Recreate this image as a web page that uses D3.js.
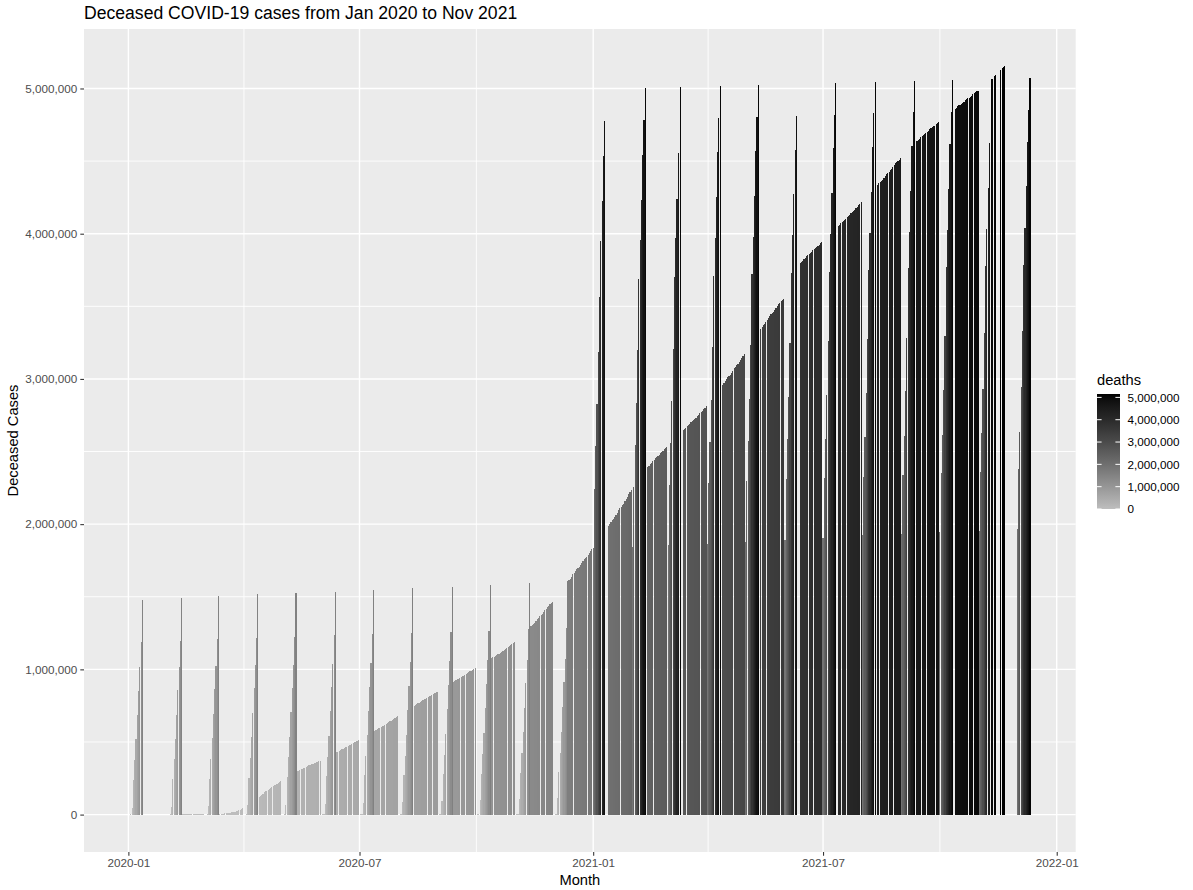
<!DOCTYPE html>
<html><head><meta charset="utf-8">
<script src="https://cdn.jsdelivr.net/npm/d3@7"></script>
<style>
body{margin:0;background:#fff}
text{font-family:"Liberation Sans",Arial,Helvetica,sans-serif}
</style>
</head><body>
<svg id="chart" width="1193" height="890"></svg>
<script>
// Cumulative global deceased cases, thousands, per reporting date (day 1..n of each month); null = no row
const deaths2020Jan = [null,null,null,null,null,null,null,null,null,null,null,null,null,null,null,null,null,null,null,null,null,0.017,0.018,0.026,0.042,0.056,0.082,0.131,0.133,0.171,0.213];
const deaths2020Feb = [0.259,0.362,0.426,0.492,0.564,0.634,0.719,0.806,0.906,1.013,1.113,1.118,1.371,1.523,1.666,1.770,1.868,2.007,2.122,2.247,2.251,2.458,2.469,2.629,2.708,2.770,2.814,2.872,2.941];
const deaths2020Mar = [2.996,3.085,3.160,3.254,3.348,3.460,3.558,3.802,3.988,4.262,4.615,4.720,5.404,5.819,6.440,7.126,7.905,8.733,9.867,11.299,12.973,14.623,16.497,18.615,21.181,23.970,27.198,30.652,33.925,37.582,42.107];
const deaths2020Apr = [46.809,52.983,58.787,64.606,69.374,74.565,81.865,88.338,95.455,102.525,108.502,114.091,119.482,125.984,134.176,143.800,153.822,159.510,165.044,169.986,176.583,183.067,190.858,197.159,202.846,206.544,211.167,217.153,227.638,233.388];
const deaths2020May = [238.650,243.808,247.470,251.537,257.239,263.855,269.567,274.898,279.311,282.709,286.330,291.942,297.197,302.418,307.666,311.781,315.185,318.481,323.285,328.115,332.924,338.160,342.097,345.059,346.232,350.453,355.629,360.308,365.123,369.126,372.035];
const deaths2020Jun = [375.543,380.249,385.947,391.136,395.862,399.931,403.269,406.818,411.580,416.459,421.461,426.149,430.425,433.802,437.531,444.180,449.642,454.802,459.637,463.868,467.466,471.654,477.065,482.449,489.361,494.285,498.628,502.146,505.669,510.734];
const deaths2020Jul = [518.0,523.0,528.2,532.3,535.8,539.6,545.6,551.3,556.8,562.3,567.4,571.4,575.4,581.4,587.3,593.2,599.0,604.3,608.6,612.6,618.5,625.3,631.8,638.0,643.3,647.3,651.3,657.8,664.5,670.8,677.0];
const deaths2020Aug = [682.6,686.8,690.9,697.6,704.2,710.4,716.7,722.2,726.8,731.2,737.4,743.8,749.7,755.6,761.1,765.6,769.7,776.2,782.7,788.5,794.0,799.4,803.7,807.7,814.0,820.0,825.9,831.4,836.4,840.7,845.0];
const deaths2020Sep = [851.3,857.6,863.4,869.0,873.8,877.8,881.8,887.0,893.4,899.2,904.8,910.1,914.4,918.8,925.1,931.5,937.1,942.7,948.0,952.1,956.5,962.8,969.2,974.9,980.6,985.8,990.0,994.8,1001.0,1007.2];
const deaths2020Oct = [1013.2,1018.9,1024.1,1028.0,1032.7,1038.7,1044.7,1050.7,1056.4,1061.6,1065.5,1069.8,1076.1,1082.4,1088.5,1094.5,1100.1,1104.3,1108.8,1115.4,1122.3,1128.7,1135.1,1141.5,1146.1,1151.2,1158.7,1165.9,1172.8,1179.6,1186.4];
const deaths2020Nov = [1191.4,1196.6,1205.8,1215.3,1224.0,1233.6,1242.4,1249.5,1256.9,1267.3,1278.0,1287.8,1297.8,1306.3,1313.6,1321.6,1333.1,1344.4,1355.4,1366.9,1376.3,1383.9,1393.2,1405.8,1418.5,1429.3,1439.8,1448.4,1456.0,1465.1];
const deaths2020Dec = [1477.8,1490.7,1503.7,1516.0,1527.3,1534.9,1544.2,1556.9,1570.4,1582.6,1595.3,1606.3,1614.3,1625.2,1639.4,1653.4,1667.0,1679.8,1690.4,1698.1,1708.2,1721.5,1735.8,1748.7,1758.0,1765.4,1772.8,1784.2,1799.6,1815.1,1831.9];
const deaths2021Jan = [1838,1846,1853,1863,1878,1893,1908,1922,1935,1944,1954,1970,1986,2001,2015,2027,2036,2046,2062,2078,2094,2108,2120,2129,2141,2157,2174,2190,2210,2222,2232];
const deaths2021Feb = [2241,2256,2270,2284,2297,2308,2316,2325,2338,2350,2362,2380,2393,2403,2411,2421,2432,2444,2454,2463,2469,2476,2487,2497,2506,2515,2523,2530];
const deaths2021Mar = [2538,2547,2557,2566,2575,2583,2589,2597,2607,2616,2625,2635,2648,2655,2663,2673,2683,2692,2701,2709,2715,2723,2733,2744,2754,2765,2775,2782,2790,2800,2812];
const deaths2021Apr = [2825,2837,2848,2855,2862,2875,2889,2903,2916,2927,2934,2944,2958,2972,2986,2999,3011,3019,3030,3044,3058,3072,3085,3097,3106,3117,3131,3146,3160,3174];
const deaths2021May = [3188,3198,3208,3221,3235,3249,3263,3275,3284,3298,3313,3329,3345,3360,3372,3381,3392,3406,3420,3433,3445,3455,3463,3473,3486,3500,3513,3525,3535,3542,3550];
const deaths2021Jun = [3565,3690,3700,3712,3722,3730,3738,3748,3762,3770,3778,3787,3797,3804,3814,3824,3835,3845,3854,3861,3868,3877,3886,3895,3904,3911,3917,3924,3933,3942];
const deaths2021Jul = [3951,3959,3967,3973,3979,3988,3997,4006,4015,4023,4030,4039,4053,4062,4071,4080,4088,4095,4103,4112,4122,4132,4141,4150,4157,4165,4176,4187,4197,4207,4215];
const deaths2021Aug = [4222,4230,4240,4251,4261,4272,4281,4288,4296,4306,4317,4327,4338,4347,4354,4362,4373,4384,4395,4410,4419,4427,4436,4448,4460,4472,4484,4494,4502,4510,4522];
const deaths2021Sep = [4533,4544,4555,4565,4572,4579,4588,4598,4607,4616,4624,4630,4636,4645,4654,4663,4672,4680,4686,4692,4701,4710,4719,4727,4734,4739,4745,4753,4761,4770];
const deaths2021Oct = [4778,4785,null,4796,4804,4812,4820,4828,4835,4840,null,4852,4860,4868,4876,4883,4888,4894,4902,4910,4918,4926,4932,4937,4943,4951,4959,4967,4975,4981,4986];
const deaths2021Nov = [null,5000,5008,5016,5024,null,5037,5043,5051,5060,5067,5073,5085,5093,null,null,null,5130,5138,5145,5152];

const yBreaks = [0,1000000,2000000,3000000,4000000,5000000];
const xBreakLabels = ["2020-01","2020-07","2021-01","2021-07","2022-01"];

const months = [
  [2020,1,deaths2020Jan],[2020,2,deaths2020Feb],[2020,3,deaths2020Mar],[2020,4,deaths2020Apr],
  [2020,5,deaths2020May],[2020,6,deaths2020Jun],[2020,7,deaths2020Jul],[2020,8,deaths2020Aug],
  [2020,9,deaths2020Sep],[2020,10,deaths2020Oct],[2020,11,deaths2020Nov],[2020,12,deaths2020Dec],
  [2021,1,deaths2021Jan],[2021,2,deaths2021Feb],[2021,3,deaths2021Mar],[2021,4,deaths2021Apr],
  [2021,5,deaths2021May],[2021,6,deaths2021Jun],[2021,7,deaths2021Jul],[2021,8,deaths2021Aug],
  [2021,9,deaths2021Sep],[2021,10,deaths2021Oct],[2021,11,deaths2021Nov]
];

// The source chart read ambiguous dates (day <= 12) with day and month swapped
const records = [];
months.forEach(([yr, mo, vals]) => vals.forEach((v, i) => {
  if (v == null) return;
  const day = i + 1;
  const date = day <= 12 ? new Date(Date.UTC(yr, day - 1, mo)) : new Date(Date.UTC(yr, mo - 1, day));
  records.push({date, deaths: v * 1000});
}));

const DAY = 864e5;
const svg = d3.select("#chart");
const P = {l: 84, r: 1075.7, t: 29, b: 852};

const dMin = d3.min(records, d => +d.date) - 0.45*DAY;
const dMax = d3.max(records, d => +d.date) + 0.45*DAY;
const span = dMax - dMin;
const x = d3.scaleUtc().domain([new Date(dMin - 0.05*span), new Date(dMax + 0.05*span)]).range([P.l, P.r]);

const maxV = d3.max(records, d => d.deaths);
const y = d3.scaleLinear().domain([-0.05*maxV, maxV*1.05]).range([P.b, P.t]);

const color = d3.scaleLinear().domain([0, maxV]).range(["#bebebe", "#000000"]).interpolate(d3.interpolateLab);

svg.append("rect").attr("x",0).attr("y",0).attr("width",1193).attr("height",890).attr("fill","#fff");
svg.append("rect").attr("x",P.l).attr("y",P.t).attr("width",P.r-P.l).attr("height",P.b-P.t).attr("fill","#ebebeb");

// grid
const xMajor = xBreakLabels.map(s => d3.utcParse("%Y-%m")(s));
const xMinor = d3.pairs(xMajor).map(([a,b]) => new Date((+a + +b)/2));
const yMinor = d3.pairs(yBreaks).map(([a,b]) => (a+b)/2);
const grid = svg.append("g");
grid.selectAll("line.ymn").data(yMinor).join("line")
  .attr("x1",P.l).attr("x2",P.r).attr("y1",d=>y(d)).attr("y2",d=>y(d))
  .attr("stroke","#fff").attr("stroke-width",0.9);
grid.selectAll("line.xmn").data(xMinor).join("line")
  .attr("y1",P.t).attr("y2",P.b).attr("x1",d=>x(d)).attr("x2",d=>x(d))
  .attr("stroke","#fff").attr("stroke-width",0.9);
grid.selectAll("line.ymj").data(yBreaks).join("line")
  .attr("x1",P.l).attr("x2",P.r).attr("y1",d=>y(d)).attr("y2",d=>y(d))
  .attr("stroke","#fff").attr("stroke-width",1.4);
grid.selectAll("line.xmj").data(xMajor).join("line")
  .attr("y1",P.t).attr("y2",P.b).attr("x1",d=>x(d)).attr("x2",d=>x(d))
  .attr("stroke","#fff").attr("stroke-width",1.4);

// bars
svg.append("g").selectAll("rect").data(records).join("rect")
  .attr("x", d => x(new Date(+d.date - 0.45*DAY)))
  .attr("width", d => x(new Date(+d.date + 0.45*DAY)) - x(new Date(+d.date - 0.45*DAY)))
  .attr("y", d => y(Math.max(0,d.deaths)))
  .attr("height", d => y(0) - y(d.deaths))
  .attr("fill", d => color(d.deaths))
  .attr("shape-rendering","crispEdges");

// axes
const xAxis = svg.append("g").attr("transform",`translate(0,${P.b})`)
  .call(d3.axisBottom(x).tickValues(xMajor).tickFormat(d3.utcFormat("%Y-%m")).tickSize(3.7).tickPadding(3));
const yAxis = svg.append("g").attr("transform",`translate(${P.l},0)`)
  .call(d3.axisLeft(y).tickValues(yBreaks).tickFormat(d3.format(",")).tickSize(3.7).tickPadding(3));
[xAxis,yAxis].forEach(a => {
  a.select(".domain").remove();
  a.selectAll(".tick line").attr("stroke","#333333").attr("stroke-width",1.07);
  a.selectAll(".tick text").attr("fill","#4d4d4d").style("font-size","11.7px")
   .style("font-family",'"Liberation Sans",Arial,sans-serif');
});

// titles
svg.append("text").attr("x",P.l).attr("y",19).style("font-size","17.6px").attr("fill","#000")
  .text("Deceased COVID-19 cases from Jan 2020 to Nov 2021");
svg.append("text").attr("x",(P.l+P.r)/2).attr("y",885).attr("text-anchor","middle")
  .style("font-size","14.7px").attr("fill","#000").text("Month");
svg.append("text").attr("transform",`translate(18,${(P.t+P.b)/2}) rotate(-90)`).attr("text-anchor","middle")
  .style("font-size","14.7px").attr("fill","#000").text("Deceased Cases");

// legend
const L = {x: 1097, top: 394, bottom: 509, w: 23};
const lg = svg.append("g");
lg.append("text").attr("x",L.x).attr("y",385).style("font-size","14.7px").attr("fill","#000").text("deaths");
const defs = svg.append("defs");
const grad = defs.append("linearGradient").attr("id","cbar").attr("x1",0).attr("y1",1).attr("x2",0).attr("y2",0);
d3.range(0,1.0001,0.05).forEach(t => grad.append("stop").attr("offset",t).attr("stop-color",color(t*maxV)));
lg.append("rect").attr("x",L.x).attr("y",L.top).attr("width",L.w).attr("height",L.bottom-L.top).attr("fill","url(#cbar)");
const ly = d3.scaleLinear().domain([0,maxV]).range([L.bottom, L.top]);
yBreaks.forEach(b => {
  lg.append("line").attr("x1",L.x).attr("x2",L.x+L.w/5).attr("y1",ly(b)).attr("y2",ly(b)).attr("stroke","#fff").attr("stroke-width",1);
  lg.append("line").attr("x1",L.x+L.w*4/5).attr("x2",L.x+L.w).attr("y1",ly(b)).attr("y2",ly(b)).attr("stroke","#fff").attr("stroke-width",1);
  lg.append("text").attr("x",1127.5).attr("y",ly(b)).attr("dy","0.36em").style("font-size","11.7px").attr("fill","#000")
    .text(d3.format(",")(b));
});
</script>
</body></html>
